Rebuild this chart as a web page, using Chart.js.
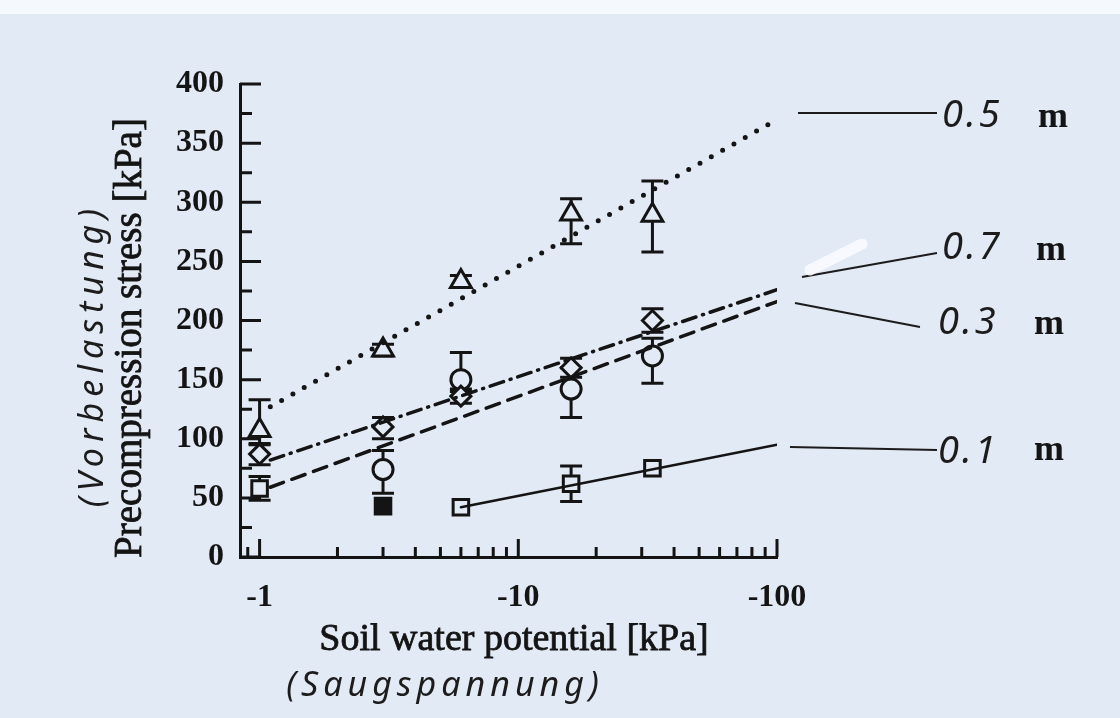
<!DOCTYPE html>
<html>
<head>
<meta charset="utf-8">
<title>Precompression stress vs soil water potential</title>
<script src="https://cdn.jsdelivr.net/npm/chart.js@4.4.1/dist/chart.umd.min.js"></script>
<style>
    html, body { margin: 0; padding: 0; background: #e2eaf5; }
    #wrap { width: 1120px; height: 718px; position: relative; }
</style>
</head>
<body>
<div id="wrap"><canvas id="chart"></canvas></div>
<script>
// soil water potential [kPa] of the measurements
const potentials = [-1, -3, -6, -16, -33];

// precompression stress [kPa] per depth (mean, lower and upper end of error bar)
const stress05 = [107, 175, 233, 290, 289];
const stress05Low = [95, 170, 228, 265, 258];
const stress05High = [133, 180, 238, 303, 318];

const stress07 = [87, 110, 136, 160, 200];
const stress07Low = [78, 100, 130, 152, 190];
const stress07High = [96, 118, 142, 168, 210];

const stress03 = [null, 74, 150, 142, 170];
const stress03Low = [null, 54, 140, 118, 147];
const stress03High = [null, 90, 173, 160, 185];

const stress01 = [58, 43, 42, 62, 75];
const stress01Low = [48, null, null, 47, null];
const stress01High = [68, null, null, 77, null];

// regression lines: start and end potential, stress
const fit05X = [-1.1, -100];
const fit05Y = [127, 370];
const fit07X = [-1.1, -100];
const fit07Y = [82, 226];
const fit03X = [-1.1, -100];
const fit03Y = [59, 216];
const fit01X = [-6, -100];
const fit01Y = [42, 95];

// axis ticks
const xTicks = [-1, -10, -100];
const xMinorTicks = [-0.9, -2, -3, -4, -5, -6, -7, -8, -9, -20, -30, -40, -50, -60, -70, -80, -90];
const yTicks = [0, 50, 100, 150, 200, 250, 300, 350, 400];
const yMinorTicks = [25, 75, 125, 175, 225, 275, 325, 375];

const paper = "#e2eaf5";
const ink = "#141414";
const pen = "#1c1c1c";

function points(xs, ys) {
    return xs.map((x, i) => ({ x: Math.abs(x), y: ys[i] }));
}

// draws the vertical error bars with caps
const errorBars = {
    id: "errorBars",
    beforeDatasetsDraw(chart) {
        const { ctx, scales: { x, y } } = chart;
        ctx.save();
        ctx.strokeStyle = ink;
        ctx.lineWidth = 3;
        chart.data.datasets.forEach(ds => {
            if (!ds.errLow) return;
            ds.data.forEach((p, i) => {
                const lo = ds.errLow[i];
                const hi = ds.errHigh[i];
                if (lo == null || hi == null || p.y == null) return;
                const px = x.getPixelForValue(p.x);
                const pLo = y.getPixelForValue(lo);
                const pHi = y.getPixelForValue(hi);
                ctx.beginPath();
                ctx.moveTo(px, pLo); ctx.lineTo(px, pHi);
                ctx.moveTo(px - 11, pLo); ctx.lineTo(px + 11, pLo);
                ctx.moveTo(px - 11, pHi); ctx.lineTo(px + 11, pHi);
                ctx.stroke();
            });
        });
        ctx.restore();
    }
};

// ticks pointing into the plot, like the printed figure
const inwardTicks = {
    id: "inwardTicks",
    afterDatasetsDraw(chart) {
        const { ctx, scales: { x, y } } = chart;
        const x0 = chart.chartArea.left;
        const y0 = chart.chartArea.bottom;
        ctx.save();
        ctx.strokeStyle = ink;
        ctx.lineWidth = 3;
        ctx.beginPath();
        yTicks.forEach(v => {
            const py = y.getPixelForValue(v);
            ctx.moveTo(x0, py); ctx.lineTo(x0 + 21, py);
        });
        yMinorTicks.forEach(v => {
            const py = y.getPixelForValue(v);
            ctx.moveTo(x0, py); ctx.lineTo(x0 + 12, py);
        });
        xTicks.forEach(v => {
            const px = x.getPixelForValue(Math.abs(v));
            ctx.moveTo(px, y0); ctx.lineTo(px, y0 - 18);
        });
        xMinorTicks.forEach(v => {
            const px = x.getPixelForValue(Math.abs(v));
            ctx.moveTo(px, y0); ctx.lineTo(px, y0 - 10);
        });
        ctx.stroke();
        ctx.restore();
    }
};

function heavyText(ctx, text, x, y) {
    ctx.fillText(text, x, y);
    ctx.strokeText(text, x, y);
}

// background, axis titles, handwritten notes and depth labels
const annotations = {
    id: "annotations",
    beforeDraw(chart) {
        const { ctx } = chart;
        ctx.save();
        ctx.fillStyle = paper;
        ctx.fillRect(0, 0, chart.width, chart.height);
        ctx.fillStyle = "#f5f8fc";
        ctx.fillRect(0, 0, chart.width, 14);
        ctx.restore();
    },
    afterDraw(chart) {
        const { ctx } = chart;
        ctx.save();
        ctx.fillStyle = ink;
        ctx.strokeStyle = ink;
        ctx.lineWidth = 0.8;
        ctx.textAlign = "center";
        ctx.textBaseline = "middle";

        ctx.font = "38px 'Liberation Serif'";
        heavyText(ctx, "Soil water potential [kPa]", 514, 640);

        ctx.save();
        ctx.translate(131, 338);
        ctx.rotate(-Math.PI / 2);
        ctx.font = "39px 'Liberation Serif'";
        heavyText(ctx, "Precompression stress [kPa]", 0, 0);
        ctx.restore();

        // handwritten notes
        ctx.fillStyle = pen;
        ctx.font = "italic 34px 'Noto Sans'";
        ctx.letterSpacing = "5px";
        ctx.fillText("(Saugspannung)", 445, 686);
        ctx.save();
        ctx.translate(93, 355);
        ctx.rotate(-Math.PI / 2);
        ctx.letterSpacing = "6px";
        ctx.fillText("(Vorbelastung)", 0, 0);
        ctx.restore();
        ctx.letterSpacing = "0px";

        // depth labels with leader lines
        ctx.strokeStyle = pen;
        ctx.lineWidth = 2.2;
        const leaders = [
            [798, 113, 937, 113],
            [802, 277, 937, 253],
            [795, 303, 920, 327],
            [790, 447, 937, 450]
        ];
        ctx.beginPath();
        leaders.forEach(l => { ctx.moveTo(l[0], l[1]); ctx.lineTo(l[2], l[3]); });
        ctx.stroke();

        ctx.textAlign = "left";
        ctx.font = "italic 38px 'Noto Sans'";
        ctx.letterSpacing = "3px";
        ctx.fillText("0.5", 942, 116);
        ctx.fillText("0.7", 942, 248);
        ctx.fillText("0.3", 938, 323);
        ctx.fillText("0.1", 938, 452);
        ctx.letterSpacing = "0px";
        ctx.fillStyle = ink;
        ctx.font = "bold 36px 'Liberation Serif'";
        ctx.fillText("m", 1038, 118);
        ctx.fillText("m", 1036, 251);
        ctx.fillText("m", 1034, 325);
        ctx.fillText("m", 1034, 451);

        // correction fluid smear near the 0.7 m leader
        ctx.strokeStyle = "rgba(250,252,255,0.85)";
        ctx.lineWidth = 11;
        ctx.lineCap = "round";
        ctx.beginPath();
        ctx.moveTo(810, 270);
        ctx.lineTo(862, 244);
        ctx.stroke();
        ctx.restore();
    }
};

function pointSet(label, xs, ys, lo, hi, style, radius, fills) {
    return {
        label: label,
        data: points(xs, ys),
        errLow: lo,
        errHigh: hi,
        showLine: false,
        pointStyle: style,
        pointRadius: radius,
        pointHoverRadius: radius,
        pointBorderWidth: 3,
        pointBorderColor: ink,
        pointBackgroundColor: fills || paper,
        order: 2
    };
}

function fitSet(label, xs, ys, dash, width) {
    return {
        label: label,
        data: points(xs, ys),
        showLine: true,
        borderColor: ink,
        borderWidth: width,
        borderDash: dash,
        borderCapStyle: "round",
        pointRadius: 0,
        order: 1
    };
}

new Chart(document.getElementById("chart"), {
    type: "scatter",
    data: {
        datasets: [
            pointSet("0.5 m", potentials, stress05, stress05Low, stress05High, "triangle", 12),
            pointSet("0.7 m", potentials, stress07, stress07Low, stress07High, "rectRot", 10),
            pointSet("0.3 m", potentials, stress03, stress03Low, stress03High, "circle", 10),
            pointSet("0.1 m", potentials, stress01, stress01Low, stress01High, "rect", 11,
                [paper, ink, paper, paper, paper]),
            fitSet("0.5 m fit", fit05X, fit05Y, [0, 13], 5),
            fitSet("0.7 m fit", fit07X, fit07Y, [14, 7, 1, 7], 3.5),
            fitSet("0.3 m fit", fit03X, fit03Y, [14, 9], 3.5),
            fitSet("0.1 m fit", fit01X, fit01Y, [], 2.5)
        ]
    },
    options: {
        responsive: true,
        maintainAspectRatio: false,
        animation: false,
        layout: { padding: { top: 84, right: 343, left: 0, bottom: 0 } },
        plugins: { legend: { display: false }, tooltip: { enabled: false } },
        scales: {
            x: {
                type: "logarithmic",
                min: 0.84,
                max: 100,
                afterFit: scale => { scale.height = 161; },
                afterBuildTicks: scale => {
                    scale.ticks = xTicks.map(v => ({ value: Math.abs(v) }));
                },
                grid: { display: false, drawTicks: false },
                border: { display: true, color: ink, width: 3 },
                ticks: {
                    autoSkip: false,
                    maxRotation: 0,
                    padding: 22,
                    color: ink,
                    font: { family: "'Liberation Serif'", size: 32, weight: "bold" },
                    callback: v => "-" + v
                }
            },
            y: {
                min: 0,
                max: 400,
                afterFit: scale => { scale.width = 240; },
                afterBuildTicks: scale => {
                    scale.ticks = yTicks.map(v => ({ value: v }));
                },
                grid: { display: false, drawTicks: false },
                border: { display: true, color: ink, width: 3 },
                ticks: {
                    padding: 16,
                    color: ink,
                    font: { family: "'Liberation Serif'", size: 32, weight: "bold" }
                }
            }
        }
    },
    plugins: [annotations, errorBars, inwardTicks]
});
</script>
</body>
</html>
